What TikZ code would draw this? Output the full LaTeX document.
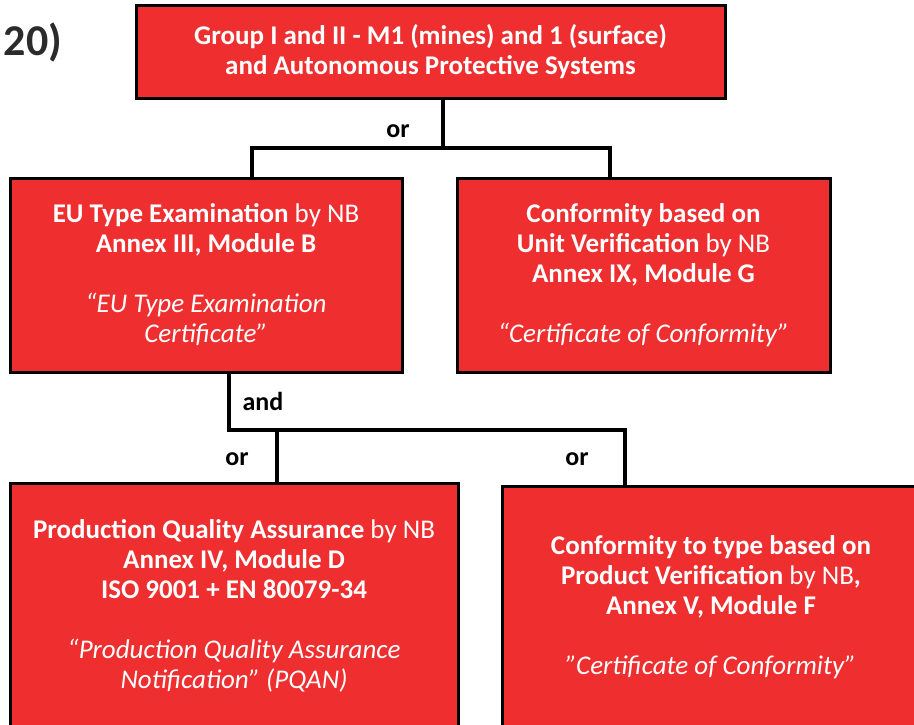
\documentclass[tikz,border=0pt]{standalone}
\usepackage{fontspec}
\setmainfont{Carlito}
\definecolor{boxred}{HTML}{EE2E2F}
\definecolor{numgray}{HTML}{2B2B2B}
\tikzset{
  box/.style={draw=black, line width=3pt, fill=boxred, text=white, align=center,
    inner sep=0pt, font=\fontsize{27}{30}\selectfont},
  conn/.style={draw=black, line width=4pt, line cap=rect},
  lbl/.style={text=black, font=\fontsize{26}{30}\selectfont\bfseries, inner sep=0pt},
}
\newcommand{\bb}[1]{\textbf{#1}}
\newcommand{\sq}{\char"0022\relax}
\begin{document}
\begin{tikzpicture}[x=1pt,y=-1pt]
\useasboundingbox (0,0) rectangle (914,724);
\clip (0,0) rectangle (914,724);
\node[text=numgray, font=\fontsize{44}{50}\selectfont\bfseries, inner sep=0pt] (num) at (33,42) {20)};
\node[box, minimum width=589pt, minimum height=93pt] (top) at (430.5,51.5)
  {\bb{Group I and II - M1 (mines) and 1 (surface)}\\ \bb{and Autonomous Protective Systems}};
\node[box, minimum width=392pt, minimum height=194pt] (B) at (206,275)
  {\bb{EU Type Examination} by NB\\ \bb{Annex III, Module B}\\[30pt]
   \itshape “EU Type Examination\\ \itshape Certificate\sq};
\node[box, minimum width=373pt, minimum height=194pt] (G) at (643.5,275)
  {\bb{Conformity based on}\\ \bb{Unit Verification} by NB\\ \bb{Annex IX, Module G}\\[30pt]
   \itshape “Certificate of Conformity\sq};
\node[box, minimum width=448pt, minimum height=245pt] (D) at (234,605.5)
  {\bb{Production Quality Assurance} by NB\\ \bb{Annex IV, Module D}\\ \bb{ISO 9001 + EN 80079-34}\\[30pt]
   \itshape “Production Quality Assurance\\ \itshape Notification\sq{} (PQAN)};
\node[box, minimum width=418pt, minimum height=242pt] (F) at (711,607)
  {\bb{Conformity to type based on}\\ \bb{Product Verification} by NB\bb{,}\\ \bb{Annex V, Module F}\\[30pt]
   \itshape \sq Certificate of Conformity\sq};
\coordinate (j1) at (443,148);
\coordinate (jl) at (252,148);
\coordinate (jr) at (610,148);
\coordinate (k1) at (229,430);
\coordinate (k2) at (625,430);
\coordinate (k3) at (277,430);
\draw[conn] (top.south -| j1) -- (j1);
\draw[conn] (B.north -| jl) -- (jl) -- (jr) -- (G.north -| jr);
\draw[conn] (B.south -| k1) -- (k1) -- (k2) -- (F.north -| k2);
\draw[conn] (k3) -- (D.north -| k3);
\node[lbl] (or1) at (398,131) {or};
\node[lbl] (and1) at (263,401) {and};
\node[lbl] (or2) at (237,459) {or};
\node[lbl] (or3) at (577,459) {or};
\end{tikzpicture}
\end{document}
